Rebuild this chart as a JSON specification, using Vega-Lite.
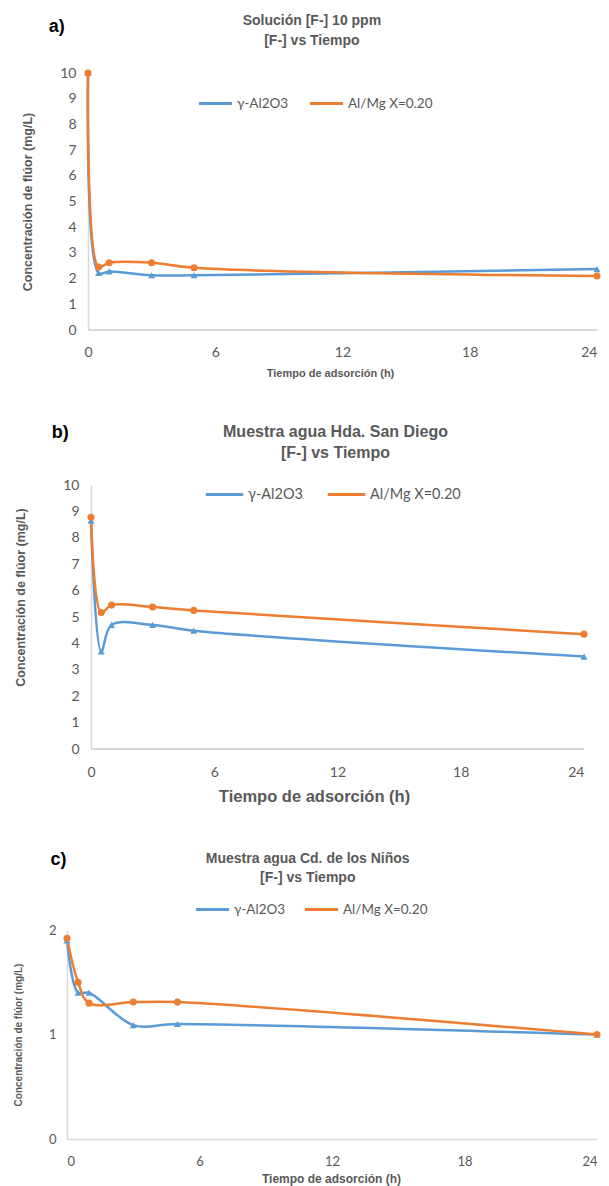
{
  "$schema": "https://vega.github.io/schema/vega-lite/v6.json",
  "padding": {"top": 14, "left": 13, "right": 5, "bottom": 4},
  "background": "white",
  "data": {"values": [
    {"panel": "a", "serie": "γ-Al2O3", "t": 0, "c": 10},
    {"panel": "a", "serie": "γ-Al2O3", "t": 0.5, "c": 2.22},
    {"panel": "a", "serie": "γ-Al2O3", "t": 1, "c": 2.28},
    {"panel": "a", "serie": "γ-Al2O3", "t": 3, "c": 2.13},
    {"panel": "a", "serie": "γ-Al2O3", "t": 5, "c": 2.13},
    {"panel": "a", "serie": "γ-Al2O3", "t": 24, "c": 2.37},
    {"panel": "a", "serie": "Al/Mg X=0.20", "t": 0, "c": 10},
    {"panel": "a", "serie": "Al/Mg X=0.20", "t": 0.5, "c": 2.45},
    {"panel": "a", "serie": "Al/Mg X=0.20", "t": 1, "c": 2.62},
    {"panel": "a", "serie": "Al/Mg X=0.20", "t": 3, "c": 2.62},
    {"panel": "a", "serie": "Al/Mg X=0.20", "t": 5, "c": 2.42},
    {"panel": "a", "serie": "Al/Mg X=0.20", "t": 24, "c": 2.1},
    {"panel": "b", "serie": "γ-Al2O3", "t": 0, "c": 8.65},
    {"panel": "b", "serie": "γ-Al2O3", "t": 0.5, "c": 3.7},
    {"panel": "b", "serie": "γ-Al2O3", "t": 1, "c": 4.7},
    {"panel": "b", "serie": "γ-Al2O3", "t": 3, "c": 4.7},
    {"panel": "b", "serie": "γ-Al2O3", "t": 5, "c": 4.48},
    {"panel": "b", "serie": "γ-Al2O3", "t": 24, "c": 3.5},
    {"panel": "b", "serie": "Al/Mg X=0.20", "t": 0, "c": 8.78},
    {"panel": "b", "serie": "Al/Mg X=0.20", "t": 0.5, "c": 5.17},
    {"panel": "b", "serie": "Al/Mg X=0.20", "t": 1, "c": 5.45},
    {"panel": "b", "serie": "Al/Mg X=0.20", "t": 3, "c": 5.38},
    {"panel": "b", "serie": "Al/Mg X=0.20", "t": 5, "c": 5.25},
    {"panel": "b", "serie": "Al/Mg X=0.20", "t": 24, "c": 4.35},
    {"panel": "c", "serie": "γ-Al2O3", "t": 0, "c": 1.9},
    {"panel": "c", "serie": "γ-Al2O3", "t": 0.5, "c": 1.4},
    {"panel": "c", "serie": "γ-Al2O3", "t": 1, "c": 1.4},
    {"panel": "c", "serie": "γ-Al2O3", "t": 3, "c": 1.09},
    {"panel": "c", "serie": "γ-Al2O3", "t": 5, "c": 1.1},
    {"panel": "c", "serie": "γ-Al2O3", "t": 24, "c": 1.0},
    {"panel": "c", "serie": "Al/Mg X=0.20", "t": 0, "c": 1.92},
    {"panel": "c", "serie": "Al/Mg X=0.20", "t": 0.5, "c": 1.5},
    {"panel": "c", "serie": "Al/Mg X=0.20", "t": 1, "c": 1.3},
    {"panel": "c", "serie": "Al/Mg X=0.20", "t": 3, "c": 1.31},
    {"panel": "c", "serie": "Al/Mg X=0.20", "t": 5, "c": 1.31},
    {"panel": "c", "serie": "Al/Mg X=0.20", "t": 24, "c": 1.0}
  ]},
  "columns": 1,
  "spacing": 46,
  "resolve": {"scale": {"color": "independent", "x": "independent", "y": "independent"}, "legend": {"color": "independent"}},
  "concat": [
    {
      "title": {"text": "a)", "anchor": "start", "frame": "bounds", "offset": -22, "dx": 27, "fontSize": 18, "fontWeight": "bold", "color": "#000000", "font": "Liberation Sans"},
      "vconcat": [
        {
          "width": 530, "height": 257,
          "title": {"text": ["Solución [F-] 10 ppm", "[F-] vs Tiempo"], "fontSize": 14, "lineHeight": 20, "offset": 18, "frame": "bounds"},
          "transform": [{"filter": "datum.panel == 'a'"}],
          "encoding": {
            "x": {"field": "t", "type": "quantitative", "scale": {"domain": [-0.99, 24], "nice": false, "zero": false},
                  "axis": {"values": [0, 6, 12, 18, 24], "domain": false, "title": "Tiempo de adsorción (h)", "titleX": 263, "titleFontSize": 11, "labelFontSize": 14, "labelPadding": 15, "titlePadding": 8}},
            "y": {"field": "c", "type": "quantitative", "scale": {"domain": [0, 10], "nice": false},
                  "axis": {"values": [0, 1, 2, 3, 4, 5, 6, 7, 8, 9, 10], "offset": -21, "title": "Concentración de flúor (mg/L)", "titleFontSize": 12.5, "labelFontSize": 14, "labelPadding": 12, "titlePadding": 25}}
          },
          "layer": [
            {"mark": {"type": "rule", "color": "#d9d9d9", "strokeWidth": 1.5},
             "encoding": {"x": {"datum": 0, "type": "quantitative"}, "x2": {"datum": 24}, "y": {"datum": 0, "type": "quantitative"}}},
            {"mark": {"type": "line", "strokeWidth": 2.5, "interpolate": "catmull-rom"},
             "encoding": {"color": {"field": "serie", "type": "nominal", "sort": ["γ-Al2O3", "Al/Mg X=0.20"],
               "scale": {"domain": ["γ-Al2O3", "Al/Mg X=0.20"], "range": ["#5B9BD5", "#ED7D31"]},
               "legend": {"orient": "none", "legendX": 130, "legendY": 12, "direction": "horizontal", "title": null, "labelFontSize": 13.5, "columnPadding": 14}}}},
            {"mark": {"type": "point", "filled": true, "opacity": 1, "size": 50},
             "encoding": {
               "fill": {"field": "serie", "type": "nominal", "scale": {"domain": ["γ-Al2O3", "Al/Mg X=0.20"], "range": ["#5B9BD5", "#ED7D31"]}, "legend": null},
               "shape": {"field": "serie", "type": "nominal", "scale": {"domain": ["γ-Al2O3", "Al/Mg X=0.20"], "range": ["triangle-up", "circle"]}, "legend": null}}}
          ]
        }
      ]
    },
    {
      "title": {"text": "b)", "anchor": "start", "frame": "bounds", "offset": -18, "dx": 37, "fontSize": 18, "fontWeight": "bold", "color": "#000000", "font": "Liberation Sans"},
      "vconcat": [
        {
          "width": 517, "height": 264,
          "title": {"text": ["Muestra agua Hda. San Diego", "[F-] vs Tiempo"], "fontSize": 16, "lineHeight": 21, "offset": 17, "frame": "group", "dx": 10},
          "transform": [{"filter": "datum.panel == 'b'"}],
          "encoding": {
            "x": {"field": "t", "type": "quantitative", "scale": {"domain": [-1.168, 24], "nice": false, "zero": false},
                  "axis": {"values": [0, 6, 12, 18, 24], "domain": false, "title": "Tiempo de adsorción (h)", "titleX": 247, "titleFontSize": 16.5, "labelFontSize": 14, "labelPadding": 16, "titlePadding": 9}},
            "y": {"field": "c", "type": "quantitative", "scale": {"domain": [0, 10], "nice": false},
                  "axis": {"values": [0, 1, 2, 3, 4, 5, 6, 7, 8, 9, 10], "offset": -24, "title": "Concentración de flúor (mg/L)", "titleY": 112, "titleFontSize": 12.5, "labelFontSize": 14, "labelPadding": 12, "titlePadding": 35}}
          },
          "layer": [
            {"mark": {"type": "rule", "color": "#d9d9d9", "strokeWidth": 1.5},
             "encoding": {"x": {"datum": 0, "type": "quantitative"}, "x2": {"datum": 24}, "y": {"datum": 0, "type": "quantitative"}}},
            {"mark": {"type": "line", "strokeWidth": 2.5, "interpolate": "catmull-rom"},
             "encoding": {"color": {"field": "serie", "type": "nominal", "sort": ["γ-Al2O3", "Al/Mg X=0.20"],
               "scale": {"domain": ["γ-Al2O3", "Al/Mg X=0.20"], "range": ["#5B9BD5", "#ED7D31"]},
               "legend": {"orient": "none", "legendX": 137, "legendY": -11, "direction": "horizontal", "title": null, "labelFontSize": 14.5, "columnPadding": 18, "symbolSize": 1400}}}},
            {"mark": {"type": "point", "filled": true, "opacity": 1, "size": 50},
             "encoding": {
               "fill": {"field": "serie", "type": "nominal", "scale": {"domain": ["γ-Al2O3", "Al/Mg X=0.20"], "range": ["#5B9BD5", "#ED7D31"]}, "legend": null},
               "shape": {"field": "serie", "type": "nominal", "scale": {"domain": ["γ-Al2O3", "Al/Mg X=0.20"], "range": ["triangle-up", "circle"]}, "legend": null}}}
          ]
        }
      ]
    },
    {
      "title": {"text": "c)", "anchor": "start", "frame": "bounds", "offset": -17, "dx": 37, "fontSize": 18, "fontWeight": "bold", "color": "#000000", "font": "Liberation Sans"},
      "vconcat": [
        {
          "width": 530, "height": 209,
          "title": {"text": ["Muestra agua Cd. de los Niños", "[F-] vs Tiempo"], "fontSize": 14, "lineHeight": 19, "offset": 39, "frame": "bounds"},
          "transform": [{"filter": "datum.panel == 'c'"}],
          "encoding": {
            "x": {"field": "t", "type": "quantitative", "scale": {"domain": [0, 24], "nice": false},
                  "axis": {"values": [0, 6, 12, 18, 24], "title": "Tiempo de adsorción (h)", "titleX": 264, "titleFontSize": 12, "labelFontSize": 13, "labelPadding": 16, "titlePadding": 5}},
            "y": {"field": "c", "type": "quantitative", "scale": {"domain": [0, 2], "nice": false},
                  "axis": {"values": [0, 1, 2], "labelExpr": "toString(round(datum.value))", "labelOverlap": false, "title": "Concentración de flúor (mg/L)", "titleFontSize": 10, "labelFontSize": 13, "labelPadding": 11, "titlePadding": 25}}
          },
          "layer": [
            {"mark": {"type": "line", "strokeWidth": 2.5, "interpolate": "catmull-rom"},
             "encoding": {"color": {"field": "serie", "type": "nominal", "sort": ["γ-Al2O3", "Al/Mg X=0.20"],
               "scale": {"domain": ["γ-Al2O3", "Al/Mg X=0.20"], "range": ["#5B9BD5", "#ED7D31"]},
               "legend": {"orient": "none", "legendX": 127, "legendY": -39, "direction": "horizontal", "title": null, "labelFontSize": 13.5, "columnPadding": 12}}}},
            {"mark": {"type": "point", "filled": true, "opacity": 1, "size": 50},
             "encoding": {
               "fill": {"field": "serie", "type": "nominal", "scale": {"domain": ["γ-Al2O3", "Al/Mg X=0.20"], "range": ["#5B9BD5", "#ED7D31"]}, "legend": null},
               "shape": {"field": "serie", "type": "nominal", "scale": {"domain": ["γ-Al2O3", "Al/Mg X=0.20"], "range": ["triangle-up", "circle"]}, "legend": null}}}
          ]
        }
      ]
    }
  ],
  "config": {
    "view": {"stroke": null},
    "title": {"font": "Liberation Sans", "fontWeight": "bold", "color": "#595959", "anchor": "middle"},
    "axis": {
      "grid": false, "ticks": false, "domainColor": "#d9d9d9", "domainWidth": 1.5,
      "labelFont": "Lato", "labelColor": "#595959", "titleFont": "Liberation Sans", "titleColor": "#595959", "titleFontWeight": "bold", "labelPadding": 8
    },
    "legend": {"labelFont": "Lato", "labelColor": "#595959", "symbolType": "stroke", "symbolStrokeWidth": 3, "symbolSize": 1100, "labelOffset": 3, "padding": 0}
  }
}
